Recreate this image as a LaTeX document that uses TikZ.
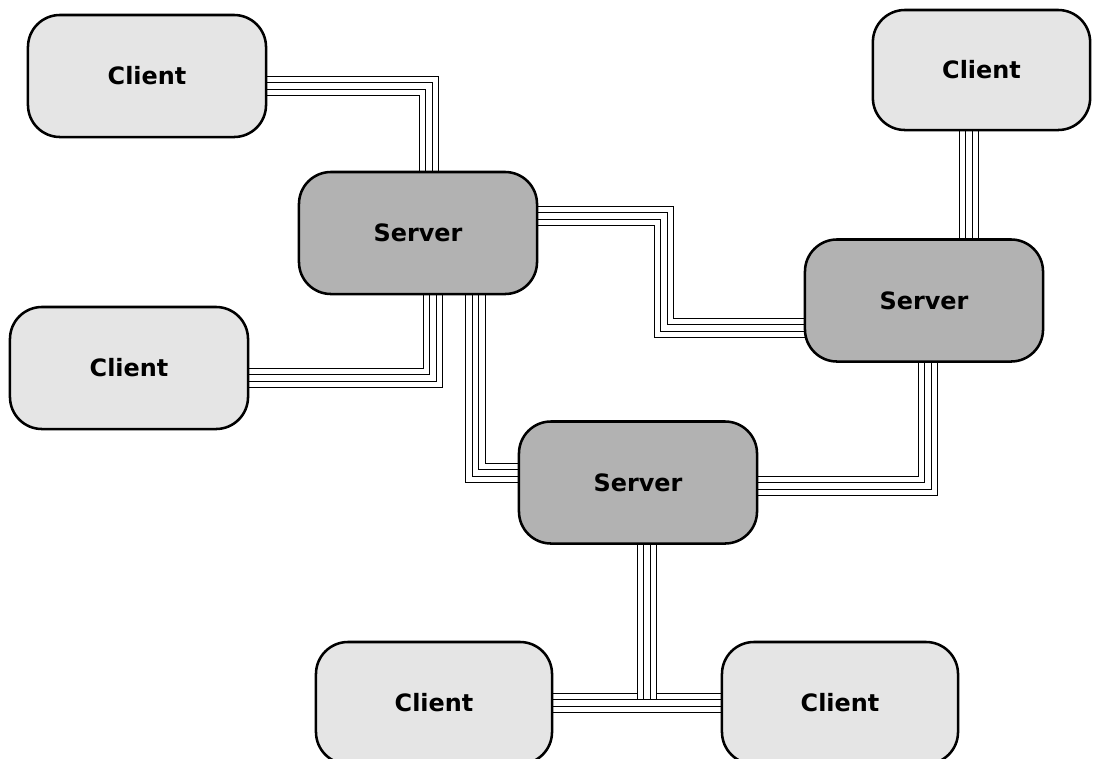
\documentclass[tikz,border=0pt]{standalone}
\usepackage{fontspec}
\setmainfont{DejaVu Sans}
\usepackage{tikz}
\usetikzlibrary{backgrounds}
\definecolor{clientfill}{gray}{0.90}
\definecolor{serverfill}{gray}{0.70}

\tikzset{
  box/.style={draw=black, line width=1.8pt, rounded corners=0.8cm, outer sep=0pt,
    minimum width=5.95cm, minimum height=3.05cm,
    font=\bfseries\fontsize{17}{20}\selectfont},
  client/.style={box, fill=clientfill},
  server/.style={box, fill=serverfill},
  bus/.style={draw=black, line width=0.506cm, line join=miter,
    postaction={draw=white, line width=0.47cm},
    postaction={draw=black, line width=0.18cm},
    postaction={draw=white, line width=0.145cm}}
}

\begin{document}
\begin{tikzpicture}[x=0.025cm, y=-0.025cm]
      \useasboundingbox (0,0) rectangle (1104,758);
      % clients and servers
      \node[client] (cTL) at (147,76) {Client};
      \node[client, minimum width=5.43cm, minimum height=3cm] (cTR) at (981.5,70) {Client};
      \node[client] (cML) at (129,368) {Client};
      \node[server] (sA) at (418,233) {Server};
      \node[server] (sB) at (924,300.5) {Server};
      \node[server] (sC) at (638,482.5) {Server};
      \node[client, minimum width=5.9cm] (cBL) at (434,703) {Client};
      \node[client, minimum width=5.9cm] (cBR) at (840,703) {Client};
      \coordinate (tap) at (647,699);

      % cables
      \begin{scope}[on background layer]
        \draw[bus] ([shift={(0,10)}]cTL.east) -| ([shift={(11,0)}]sA.north);
        \draw[bus] ([shift={(0,-17)}]sA.east) -- ++(127,0) |- ([shift={(0,27.5)}]sB.west);
        \draw[bus] ([shift={(15,0)}]sA.south) |- ([shift={(0,10)}]cML.east);
        \draw[bus] ([shift={(57.5,0)}]sA.south) |- ([shift={(0,-9.5)}]sC.west);
        \draw[bus] ([shift={(4,0)}]sB.south) |- ([shift={(0,3.5)}]sC.east);
        \draw[bus] ([shift={(-12.5,0)}]cTR.south) -- ([shift={(45,0)}]sB.north);
        \draw[bus] (cBL.east) -- (cBR.west);
        \draw[bus] ([shift={(9,0)}]sC.south) -- (tap);
      \end{scope}
\end{tikzpicture}
\end{document}
